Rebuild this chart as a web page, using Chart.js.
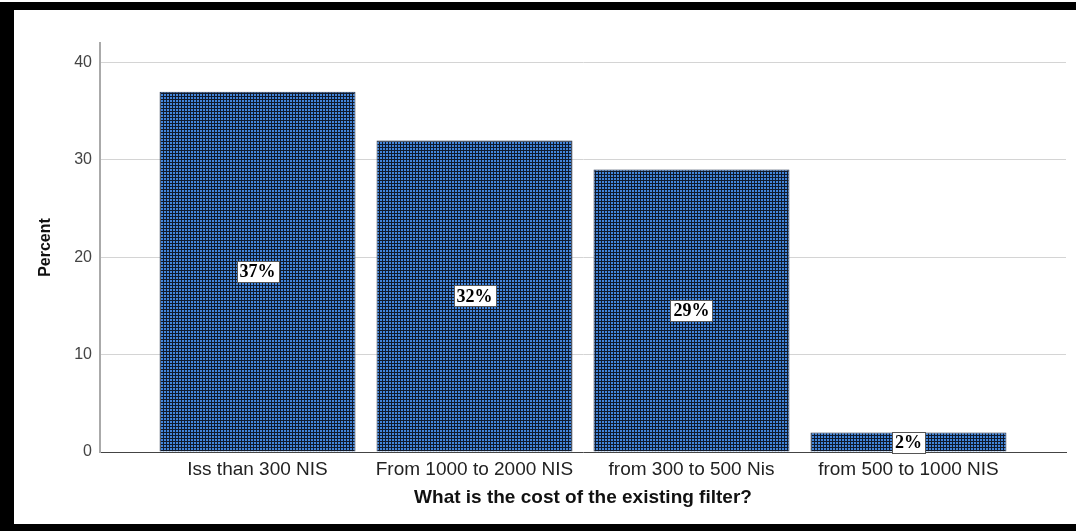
<!DOCTYPE html>
<html>
<head>
<meta charset="utf-8">
<script src="https://cdn.jsdelivr.net/npm/chart.js@4.4.1/dist/chart.umd.min.js"></script>
<style>
  html, body { margin: 0; padding: 0; background: #fff; }
  #frame {
    position: absolute; left: 0; top: 2px;
    width: 1062px; height: 514px;
    border-left: 14px solid #000;
    border-top: 8px solid #000;
    border-bottom: 7px solid #000;
    background: #fff;
  }
  #chart { display: block; }
</style>
</head>
<body>
<div id="frame"><canvas id="chart" width="1062" height="514"></canvas></div>
<script>
// Survey answers: cost of the existing filter (percent of respondents)
const categories = ['Iss than 300 NIS', 'From 1000 to 2000 NIS', 'from 300 to 500 Nis', 'from 500 to 1000 NIS'];
const percents = [37, 32, 29, 2];
const yTicks = [0, 10, 20, 30, 40];

// Blue bars with black grid texture, like the SPSS fill
function makePattern() {
  const tile = document.createElement('canvas');
  tile.width = 3;
  tile.height = 3;
  const t = tile.getContext('2d');
  t.fillStyle = '#101a2c';
  t.fillRect(0, 0, 3, 3);
  t.fillStyle = '#4286dc';
  t.fillRect(0, 0, 2, 2);
  return t.createPattern(tile, 'repeat');
}

// White boxed percent labels in the middle of each bar
const boxLabels = {
  id: 'boxLabels',
  afterDatasetsDraw(chart) {
    const ctx = chart.ctx;
    const meta = chart.getDatasetMeta(0);
    ctx.save();
    ctx.font = 'bold 18px "Liberation Serif", "Times New Roman", serif';
    ctx.textAlign = 'center';
    ctx.textBaseline = 'middle';
    meta.data.forEach((bar, i) => {
      const txt = percents[i] + '%';
      const cy = (bar.y + bar.base) / 2;
      const w = Math.round(ctx.measureText(txt).width + 6);
      const h = 21;
      const bx = Math.round(bar.x - w / 2) + 0.5;
      const by = Math.round(cy - h / 2) + 0.5;
      ctx.fillStyle = '#fff';
      ctx.fillRect(bx, by, w, h);
      ctx.strokeStyle = '#555';
      ctx.lineWidth = 1;
      ctx.strokeRect(bx, by, w, h);
      ctx.fillStyle = '#000';
      ctx.fillText(txt, bar.x, cy + 1);
    });
    ctx.restore();
  }
};

const ctx = document.getElementById('chart').getContext('2d');

new Chart(ctx, {
  type: 'bar',
  data: {
    datasets: [{
      label: 'Percent',
      data: percents.map((v, i) => ({ x: i, y: v })),
      backgroundColor: makePattern(),
      borderColor: '#1b2a44',
      borderWidth: 1,
      barPercentage: 0.903,
      categoryPercentage: 1
    }]
  },
  options: {
    responsive: false,
    animation: false,
    layout: { padding: { top: 33, right: 10, left: 0, bottom: 0 } },
    plugins: {
      legend: { display: false },
      tooltip: { enabled: false }
    },
    scales: {
      x: {
        type: 'linear',
        offset: false,
        min: -0.726,
        max: 3.726,
        afterBuildTicks: (scale) => { scale.ticks = categories.map((c, i) => ({ value: i })); },
        afterFit: (scale) => { scale.height = 72; },
        ticks: {
          callback: (v) => categories[v],
          color: '#222',
          font: { family: '"Liberation Sans", Arial, sans-serif', size: 19 },
          padding: 6,
          autoSkip: false,
          maxRotation: 0
        },
        grid: { display: false, drawTicks: false },
        border: { display: true, color: '#444', width: 1 },
        title: {
          display: true,
          text: 'What is the cost of the existing filter?',
          color: '#111',
          font: { family: '"Liberation Sans", Arial, sans-serif', size: 19, weight: 'bold' },
          padding: { top: 4, bottom: 15 }
        }
      },
      y: {
        min: 0,
        max: 42,
        afterBuildTicks: (scale) => { scale.ticks = yTicks.map(v => ({ value: v })); },
        afterFit: (scale) => { scale.width = 86; },
        ticks: {
          color: '#444',
          font: { family: '"Liberation Sans", Arial, sans-serif', size: 16 },
          padding: 8
        },
        grid: {
          drawTicks: false,
          color: (c) => c.tick && c.tick.value === 0 ? 'rgba(0,0,0,0)' : '#d4d4d4',
          lineWidth: 1
        },
        border: { display: true, color: '#aaa', width: 2 },
        title: {
          display: true,
          text: 'Percent',
          color: '#111',
          font: { family: '"Liberation Sans", Arial, sans-serif', size: 16, weight: 'bold' },
          padding: { top: 22, bottom: 0 }
        }
      }
    }
  },
  plugins: [boxLabels]
});
</script>
</body>
</html>
